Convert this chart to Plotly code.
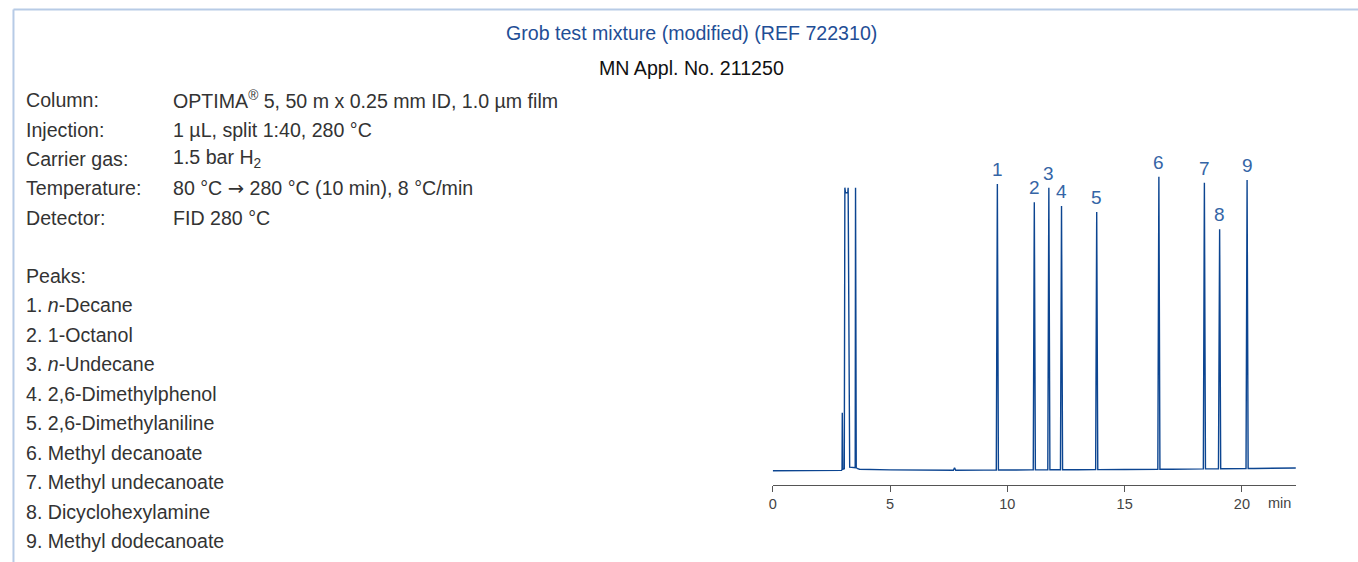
import plotly.graph_objects as go

W, H = 1358, 562

# ---- data (retention time in min, signal in arbitrary units) ----
peak_labels = ["1", "2", "3", "4", "5", "6", "7", "8", "9"]
peak_times = [9.575, 11.15, 11.77, 12.31, 13.81, 16.46, 18.40, 19.05, 20.22]
peak_heights = [286.7, 268.4, 283.0, 264.7, 258.7, 294.0, 288.0, 241.4, 290.7]
peak_halfwidth = 0.045

solvent_times = [2.93, 2.955, 2.965, 2.985, 3.05, 3.075, 3.10, 3.20, 3.215, 3.28, 3.48, 3.515, 3.53, 3.56, 3.62]
solvent_signal = [0.3, 1.0, 58.0, 1.5, 2.0, 283.0, 278.0, 278.0, 283.0, 3.5, 2.5, 3.0, 283.0, 3.0, 2.0]

baseline_times = [0.0, 2.90, 3.70, 5.0, 7.0, 7.70, 7.75, 7.80, 9.0, 11.0, 13.0, 15.0, 17.0, 19.0, 20.5, 22.3]
baseline_signal = [0.0, 0.0, 1.5, 0.8, 0.4, 0.4, 3.0, 0.4, 0.6, 0.8, 1.0, 1.2, 1.5, 2.0, 2.2, 2.7]

x_ticks = [0, 5, 10, 15, 20]
x_unit = "min"

info_keys = ["Column:", "Injection:", "Carrier gas:", "Temperature:", "Detector:"]
info_vals = ["OPTIMA<sup>®</sup> 5, 50 m x 0.25 mm ID, 1.0 µm film",
             "1 µL, split 1:40, 280 °C",
             "1.5 bar H<sub>2</sub>",
             "80 °C <span style=\"font-family:'DejaVu Sans'\">→</span> 280 °C (10 min), 8 °C/min",
             "FID 280 °C"]
peak_names = ["1. <i>n</i>-Decane", "2. 1-Octanol", "3. <i>n</i>-Undecane",
              "4. 2,6-Dimethylphenol", "5. 2,6-Dimethylaniline", "6. Methyl decanoate",
              "7. Methyl undecanoate", "8. Dicyclohexylamine", "9. Methyl dodecanoate"]

title1 = "Grob test mixture (modified) (REF 722310)"
title2 = "MN Appl. No. 211250"

# ---- build chromatogram trace from the arrays ----
def base_at(t):
    for i in range(len(baseline_times) - 1):
        t0, t1 = baseline_times[i], baseline_times[i + 1]
        if t0 <= t <= t1:
            return baseline_signal[i] + (baseline_signal[i + 1] - baseline_signal[i]) * (t - t0) / (t1 - t0)
    return baseline_signal[-1]

pts = list(zip(baseline_times, baseline_signal))
pts = [p for p in pts if not (solvent_times[0] <= p[0] <= solvent_times[-1])]
pts += list(zip(solvent_times, solvent_signal))
for t, h in zip(peak_times, peak_heights):
    pts += [(t - peak_halfwidth, base_at(t - peak_halfwidth)), (t, h),
            (t + peak_halfwidth, base_at(t + peak_halfwidth))]
pts = [p for p in pts if not any(abs(p[0] - t) < peak_halfwidth * 0.99 and p[1] < 50 for t in peak_times)]
pts.sort(key=lambda p: p[0])
xs = [p[0] for p in pts]
ys = [p[1] for p in pts]

line_col = "#0c4591"
label_col = "#3565a6"
FONT = "Liberation Sans, Arial, sans-serif"
TXT = 19.6

fig = go.Figure()
fig.add_trace(go.Scatter(x=xs, y=ys, mode="lines",
                         line=dict(color=line_col, width=1.4),
                         hoverinfo="skip", showlegend=False))

# x domain: 0 min at px 771, 22.3 min at px 1295.7
x0px, x1px = 771, 1295.7
xmax = 22.3
# y domain: px 485 (bottom) to px 150 (top); signal 0 at px 470.7
ybot_px, ytop_px = 485, 150
ymin = -(ybot_px - 470.7)
ymax = ymin + (ybot_px - ytop_px)

fig.update_layout(
    width=W, height=H,
    margin=dict(l=0, r=0, t=0, b=0),
    paper_bgcolor="white", plot_bgcolor="white",
    font=dict(family=FONT, color="#333333"),
    xaxis=dict(domain=[x0px / W, x1px / W], range=[0, xmax],
               showgrid=False, zeroline=False, showline=True,
               linecolor="#555555", linewidth=1,
               ticks="outside", ticklen=6, tickcolor="#555555", tickwidth=1,
               tickvals=x_ticks, ticktext=[str(v) for v in x_ticks],
               tickfont=dict(size=14.5, color="#444444"),
               anchor="y"),
    yaxis=dict(domain=[1 - ybot_px / H, 1 - ytop_px / H], range=[ymin, ymax],
               visible=False, showgrid=False, zeroline=False),
)

ann = []
for lab, t, h in zip(peak_labels, peak_times, peak_heights):
    ann.append(dict(x=t, y=h, xref="x", yref="y", text=lab, showarrow=False,
                    yanchor="bottom", yshift=2,
                    font=dict(size=19, color=label_col, family=FONT)))

ann.append(dict(x=21.6, y=1 - 503 / H, xref="x", yref="paper", text=x_unit,
                showarrow=False, yanchor="middle",
                font=dict(size=14.5, color="#444444")))


def px_ann(x, y, text, size=TXT, color="#333333", xanchor="left"):
    return dict(x=x / W, y=1 - y / H, xref="paper", yref="paper", text=text,
                showarrow=False, xanchor=xanchor, yanchor="middle",
                font=dict(size=size, color=color))


ann.append(px_ann(690, 33, title1, color="#1f4e96", xanchor="center"))
ann.append(px_ann(690, 68, title2, color="#111111", xanchor="center"))

row_y = [100, 129.5, 159, 188.5, 218]
for k, v, y in zip(info_keys, info_vals, row_y):
    ann.append(px_ann(20, y, k))
    ann.append(px_ann(167, y, v))

ann.append(px_ann(20, 276, "Peaks:"))
for i, name in enumerate(peak_names):
    ann.append(px_ann(20, 305 + i * 29.5, name))

fig.update_layout(annotations=ann)

# frame lines (light blue) at top and left
fig.add_shape(type="line", xref="paper", yref="paper",
              x0=9.5 / W, x1=1, y0=1 - 9.5 / H, y1=1 - 9.5 / H,
              line=dict(color="#b7cbe6", width=2))
fig.add_shape(type="line", xref="paper", yref="paper",
              x0=9.5 / W, x1=9.5 / W, y0=0, y1=1 - 9.5 / H,
              line=dict(color="#b7cbe6", width=2))

fig.write_html("out.html", config={"displayModeBar": False},
               post_script="document.body.style.margin='0';document.body.style.overflow='hidden';")
